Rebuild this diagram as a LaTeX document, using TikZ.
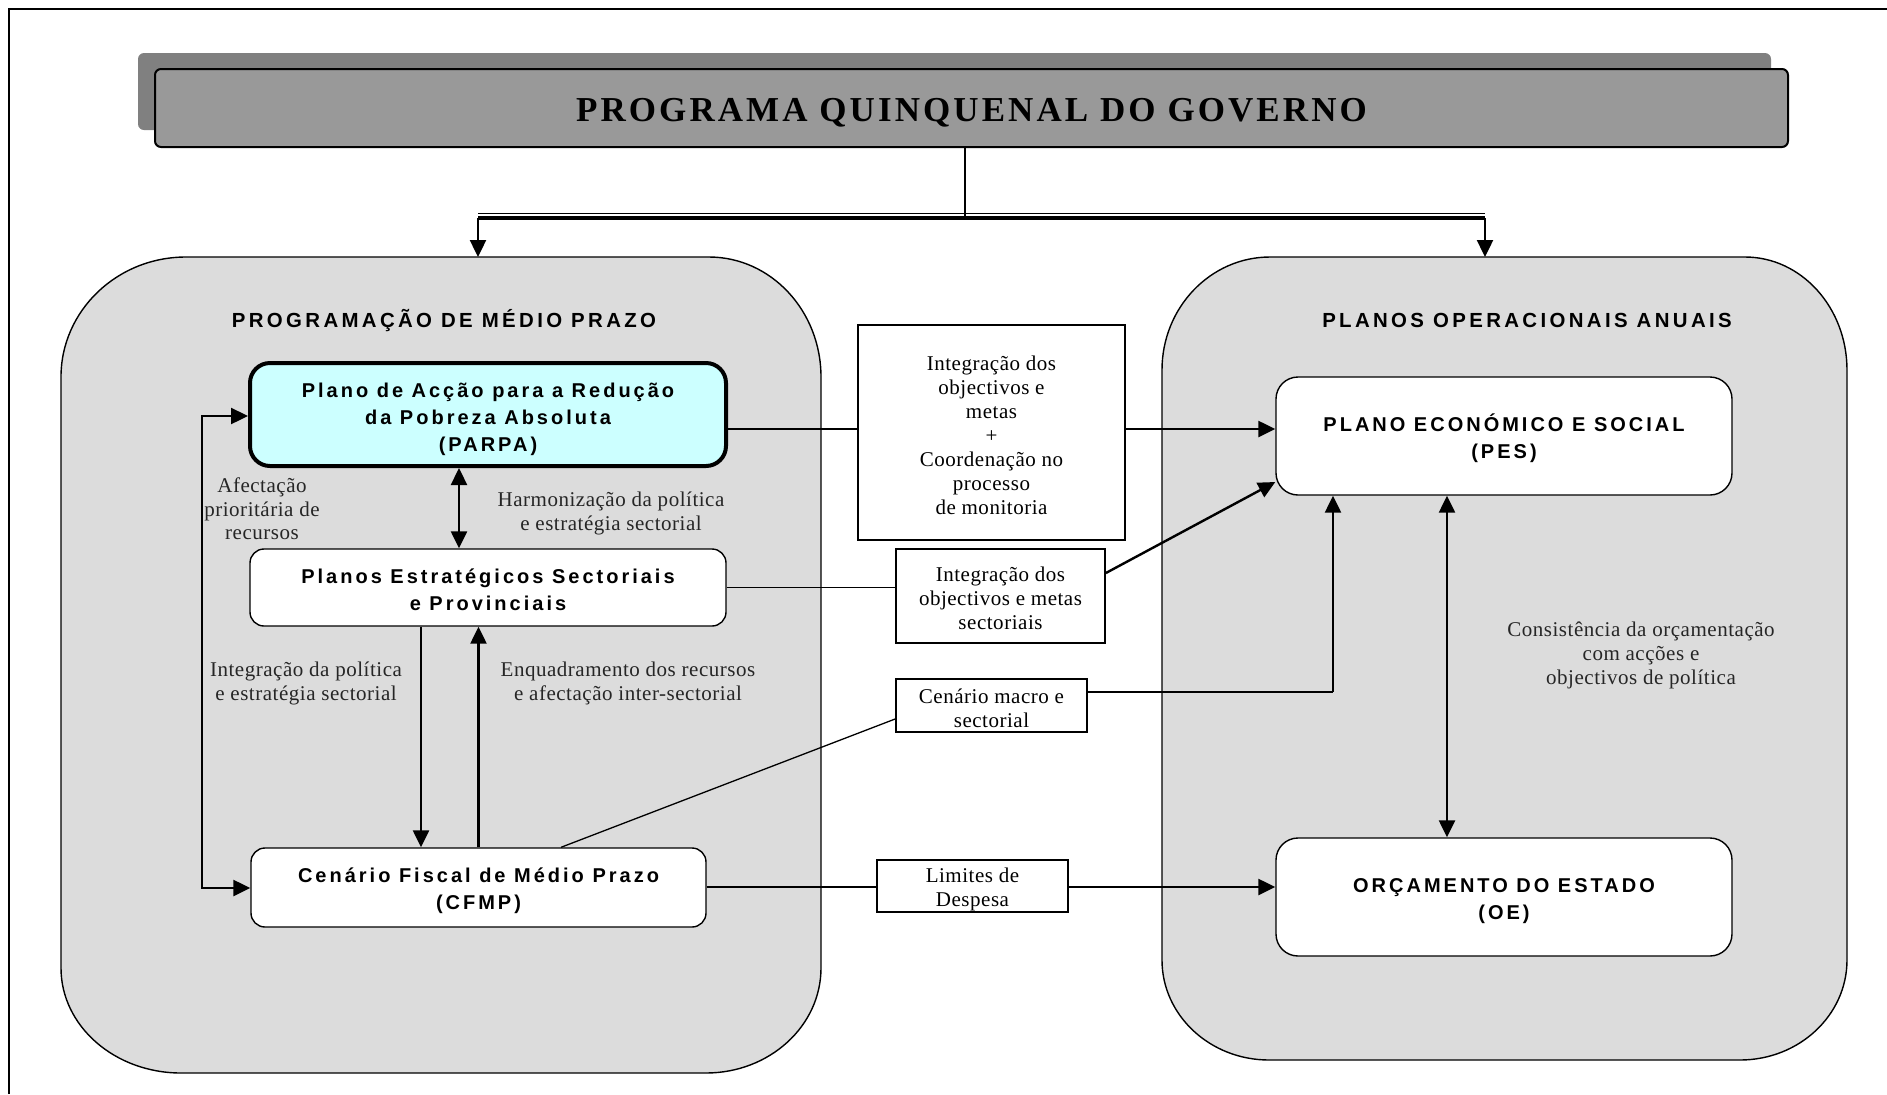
\documentclass[tikz,border=0pt]{standalone}
\usepackage{fontspec}
\setmainfont{Liberation Serif}
\setsansfont{Liberation Sans}
\newfontfamily\spsans[LetterSpace=15]{Liberation Sans}
\newfontfamily\hdsans[LetterSpace=16.5]{Liberation Sans}
\newfontfamily\spserif[LetterSpace=2.5]{Liberation Serif}
\newfontfamily\ttlserif[LetterSpace=8.8]{Liberation Serif}
\usetikzlibrary{arrows.meta,calc}
\definecolor{contgray}{HTML}{DCDCDC}
\definecolor{titlegray}{HTML}{999999}
\definecolor{shadowgray}{HTML}{808080}
\definecolor{parpacyan}{HTML}{CCFFFF}
\begin{document}
\begin{tikzpicture}[x=0.5pt,y=-0.5pt,
  >={Triangle[length=8.5pt,width=8pt]},
  sansbox/.style={draw=black, line width=0.7pt, fill=white, rounded corners=7pt, inner sep=0pt},
  sanstext/.style={inner sep=0pt, align=center, font={\spsans\bfseries\fontsize{10}{13.5}\selectfont}},
  serifbox/.style={draw=black, line width=0.9pt, fill=white, inner sep=0pt},
  seriftext/.style={inner sep=0pt, align=center, font={\spserif\fontsize{10.5}{12}\selectfont}},
  lbl/.style={inner sep=0pt, align=center, font={\spserif\fontsize{10.5}{11.8}\selectfont}, text=black!85},
  hdr/.style={inner sep=0pt, anchor=base, font={\hdsans\bfseries\fontsize{10.2}{12}\selectfont}},
  thinln/.style={line width=0.65pt},
  thickln/.style={line width=1.2pt},
  cont/.style={draw=black, line width=0.7pt, fill=contgray},
]
\useasboundingbox (0,0) rectangle (1887,1094);
% outer frame
\coordinate (f1) at (9,1094);
\coordinate (f2) at (9,9);
\coordinate (f3) at (1887,9);
\draw[line width=1pt] (f1) -- (f2) -- (f3);

% title with shadow
\fill[shadowgray, rounded corners=3pt] (138,53) rectangle (1771,130);
\node[draw=black, line width=1pt, fill=titlegray, rounded corners=3pt, minimum width=816.5pt, minimum height=39pt, inner sep=0pt] (title) at (971.5,108) {};
\node[anchor=base, inner sep=0pt, font={\ttlserif\bfseries\fontsize{17.5}{20}\selectfont}] (titletext) at (971.5,121) {PROGRAMA QUINQUENAL DO GOVERNO};

% containers
\path[cont] (61,377) arc[start angle=180,end angle=270,x radius=125,y radius=120] -- (709,257) arc[start angle=270,end angle=360,x radius=112,y radius=120] -- (821,968) arc[start angle=0,end angle=90,x radius=115,y radius=105] -- (181,1073) arc[start angle=90,end angle=180,x radius=120,y radius=105] -- cycle;
\path[cont] (1162,370) arc[start angle=180,end angle=270,x radius=108,y radius=113] -- (1745,257) arc[start angle=270,end angle=360,x radius=102,y radius=113] -- (1847,960) arc[start angle=0,end angle=90,x radius=107,y radius=100] -- (1269,1060) arc[start angle=90,end angle=180,x radius=107,y radius=100] -- cycle;

\node[hdr] (hl) at (444,327) {PROGRAMAÇÃO DE MÉDIO PRAZO};
\node[hdr] (hr) at (1527,327) {PLANOS OPERACIONAIS ANUAIS};

% boxes
\node[sansbox, fill=parpacyan, line width=2pt, rounded corners=10pt, minimum width=238pt, minimum height=51.5pt,
  label={[sanstext,yshift=-2.2pt]center:{Plano de Acção para a Redução\\da Pobreza Absoluta\\(PARPA)}}] (parpa) at (488,414.5) {};
\node[sansbox, minimum width=238pt, minimum height=38.5pt,
  label={[sanstext,yshift=-1.2pt]center:{Planos Estratégicos Sectoriais\\e Provinciais}}] (planos) at (488,587.5) {};
\node[sansbox, minimum width=227.5pt, minimum height=39.5pt,
  label={[sanstext,yshift=-1.8pt]center:{Cenário Fiscal de Médio Prazo\\(CFMP)}}] (cfmp) at (478.5,887.5) {};
\node[sansbox, rounded corners=11pt, minimum width=228pt, minimum height=59pt,
  label={[sanstext,yshift=-1pt]center:{PLANO ECONÓMICO E SOCIAL\\(PES)}}] (pes) at (1504,436) {};
\node[sansbox, rounded corners=11pt, minimum width=228pt, minimum height=59pt,
  label={[sanstext,yshift=-2pt]center:{ORÇAMENTO DO ESTADO\\(OE)}}] (oe) at (1504,897) {};

\node[serifbox, minimum width=133.5pt, minimum height=107.5pt,
  label={[seriftext,yshift=-1.2pt]center:{Integração dos\\objectivos e\\metas\\+\\Coordenação no\\processo\\de monitoria}}] (boxA) at (991.5,432.5) {};
\node[serifbox, minimum width=104.5pt, minimum height=47pt,
  label={[seriftext,yshift=-1.2pt]center:{Integração dos\\objectivos e metas\\sectoriais}}] (boxB) at (1000.5,596) {};
\node[serifbox, minimum width=95.5pt, minimum height=26.5pt,
  label={[seriftext,yshift=-1.2pt]center:{Cenário macro e\\sectorial}}] (boxC) at (991.5,705.5) {};
\node[serifbox, minimum width=95.5pt, minimum height=26pt,
  label={[seriftext,yshift=-1.6pt]center:{Limites de\\Despesa}}] (boxD) at (972.5,886) {};

% labels
\node[lbl] (afect) at (262,509) {Afectação\\prioritária de\\recursos};
\node[lbl] (harm) at (611,513.5) {Harmonização da política\\e estratégia sectorial};
\node[lbl] (integ) at (306,683.5) {Integração da política\\e estratégia sectorial};
\node[lbl] (enq) at (628,683.5) {Enquadramento dos recursos\\e afectação inter-sectorial};
\node[lbl] (cons) at (1641,655.5) {Consistência da orçamentação\\com acções e\\objectivos de política};

% top connector
\coordinate (split) at (965,217);
\coordinate (bl) at (478,218);
\coordinate (br) at (1485,218);
\coordinate (tl) at (478,213.5);
\coordinate (tr) at (1485,213.5);
\coordinate (lct) at (478,257);
\coordinate (rct) at (1485,257);
\draw[line width=1pt] (title.south -| split) -- (split);
\draw[line width=2pt] (bl) -- (br);
\draw[line width=0.6pt] (tl) -- (tr);
\draw[thickln,->] (bl) -- (lct);
\draw[thickln,->] (br) -- (rct);

% middle connectors
\coordinate (yA) at (0,429);
\draw[thinln] (parpa.east |- yA) -- (boxA.west |- yA);
\draw[thickln,->] (boxA.east |- yA) -- (pes.west |- yA);

\draw[thinln] (planos.east) -- (planos.east -| boxB.west);
\coordinate (yB1) at (0,573);
\coordinate (yB2) at (0,482);
\draw[thickln,->] (boxB.east |- yB1) -- (pes.west |- yB2);

\coordinate (cC) at (1333,692);
\draw[thinln] (boxC.east |- cC) -- (cC);
\draw[thickln,->] (cC) -- (cC |- pes.south);

\coordinate (dC1) at (561,0);
\coordinate (dC2) at (0,719);
\draw[thinln] (cfmp.north -| dC1) -- (boxC.west |- dC2);

\coordinate (yD) at (0,887);
\draw[thinln] (cfmp.east |- yD) -- (boxD.west |- yD);
\draw[thickln,->] (boxD.east |- yD) -- (oe.west |- yD);

% vertical arrows left
\coordinate (x1) at (459,0);
\coordinate (x2) at (421,0);
\coordinate (x3) at (478.5,0);
\draw[thickln,<->] (parpa.south -| x1) -- (planos.north -| x1);
\draw[thickln,->] (planos.south -| x2) -- (cfmp.north -| x2);
\draw[thickln,->] (cfmp.north -| x3) -- (planos.south -| x3);

% loop
\coordinate (l1) at (202,416);
\coordinate (l2) at (202,888);
\draw[thickln,<->] (parpa.west |- l1) -- (l1) -- (l2) -- (cfmp.west |- l2);

% PES <-> OE
\coordinate (x4) at (1447,0);
\draw[thickln,<->] (pes.south -| x4) -- (oe.north -| x4);
\end{tikzpicture}
\end{document}
